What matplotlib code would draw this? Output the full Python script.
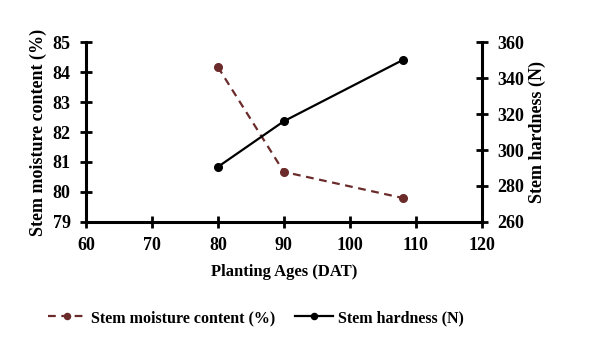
import matplotlib
matplotlib.use("Agg")
import matplotlib.pyplot as plt

# dane
ages = [80, 90, 108]
moisture = [84.17, 80.67, 79.8]
hardness = [290.6, 316.0, 350.0]

plt.rcParams['font.family'] = ['Liberation Serif', 'DejaVu Serif']
plt.rcParams['font.weight'] = 'bold'

fig = plt.figure(figsize=(5.92, 3.42), dpi=100)
ax = fig.add_axes([0.145, 0.351, 0.669, 0.526])
ax2 = ax.twinx()

l1, = ax.plot(ages, moisture, color='#6b2b2b', ls='--', lw=1.6, marker='o',
              markersize=5.5, dashes=(3.5, 2.5), label='Stem moisture content (%)')
l2, = ax2.plot(ages, hardness, color='black', lw=1.6, marker='o',
               markersize=5.5, label='Stem hardness (N)')

ax.set_xlim(60, 120)
ax.set_ylim(79, 85)
ax2.set_ylim(260, 360)
ax.set_xticks(range(60, 121, 10))
ax.set_yticks(range(79, 86))
ax2.set_yticks(range(260, 361, 20))

for a in (ax, ax2):
    a.spines['top'].set_visible(False)
    for s in a.spines.values():
        s.set_linewidth(2.2)
    a.tick_params(direction='inout', width=2, length=8, labelsize=13, pad=7)
ax.spines['right'].set_visible(False)
ax2.spines['left'].set_visible(False)
ax2.spines['bottom'].set_visible(False)

for lab in ax.get_xticklabels() + ax.get_yticklabels() + ax2.get_yticklabels():
    lab.set_fontweight('bold')

ax.set_xlabel('Planting Ages (DAT)', fontsize=12, fontweight='bold')
ax.set_ylabel('Stem moisture content (%)', fontsize=13, fontweight='bold')
ax2.set_ylabel('Stem hardness (N)', fontsize=13, fontweight='bold')
ax.xaxis.set_label_coords(0.5, -0.278)
ax.yaxis.set_label_coords(-0.121, 0.5)
ax2.yaxis.set_label_coords(1.141, 0.5)
ax.xaxis.label.set_va('center')
ax.yaxis.label.set_va('center')
ax2.yaxis.label.set_va('center')

fig.legend(handles=[l1, l2], loc='center', bbox_to_anchor=(0.432, 0.07), ncol=2,
           frameon=False, handlelength=2.4, handletextpad=0.3, columnspacing=1.2,
           markerscale=0.8, prop={'weight': 'bold', 'size': 11.5})

fig.savefig('out.png', dpi=100)
